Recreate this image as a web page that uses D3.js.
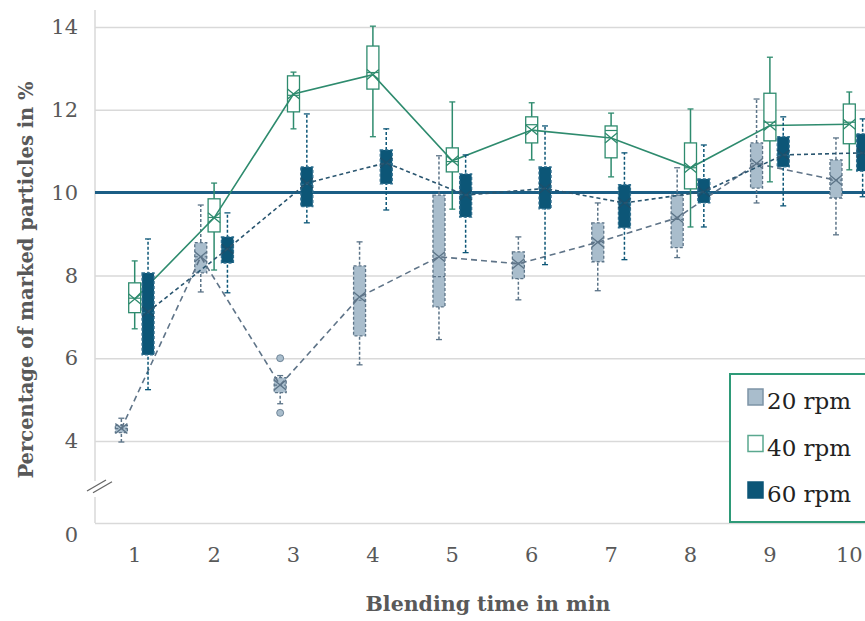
<!DOCTYPE html>
<html>
<head>
<meta charset="utf-8">
<script src="https://cdn.jsdelivr.net/npm/d3@7"></script>
<style>
  body { margin: 0; background: #fff; }
  text { font-family: "DejaVu Serif", serif; fill: #595959; }
</style>
</head>
<body>
<svg id="chart" width="865" height="621"></svg>
<script>
var width = 865,
    height = 621;

var categories = [1, 2, 3, 4, 5, 6, 7, 8, 9, 10];
var seriesNames = ['20 rpm', '40 rpm', '60 rpm'];
var yTicks = [0, 4, 6, 8, 10, 12, 14];

// each box: [min, q1, median, q3, max, mean]
var rpm20 = [
  [3.95, 4.2, 4.3, 4.38, 4.55, 4.3],
  [7.6, 8.06, 8.45, 8.79, 9.7, 8.45],
  [4.9, 5.17, 5.35, 5.53, 5.58, 5.35],
  [5.84, 6.54, 7.4, 8.23, 8.81, 7.48],
  [6.45, 7.24, 7.97, 9.94, 10.89, 8.45],
  [7.41, 7.92, 8.3, 8.57, 8.93, 8.28],
  [7.63, 8.33, 8.8, 9.27, 9.75, 8.8],
  [8.43, 8.67, 9.35, 9.94, 10.6, 9.39],
  [9.75, 10.11, 10.7, 11.2, 12.26, 10.7],
  [8.98, 9.87, 10.3, 10.79, 11.32, 10.3]
];
var rpm40 = [
  [6.71, 7.1, 7.45, 7.82, 8.35, 7.43],
  [8.13, 9.05, 9.4, 9.85, 10.23, 9.39],
  [11.54, 11.95, 12.35, 12.82, 12.91, 12.38],
  [11.35, 12.5, 12.9, 13.54, 14.02, 12.85],
  [9.6, 10.5, 10.75, 11.08, 12.19, 10.77],
  [10.79, 11.2, 11.64, 11.83, 12.17, 11.51],
  [10.38, 10.84, 11.5, 11.61, 11.92, 11.32],
  [9.17, 10.09, 10.6, 11.2, 12.02, 10.6],
  [10.26, 11.25, 11.7, 12.4, 13.27, 11.62],
  [10.55, 11.18, 11.7, 12.14, 12.43, 11.65]
];
var rpm60 = [
  [5.24, 6.08, 7.1, 8.06, 8.88, 7.12],
  [7.58, 8.3, 8.64, 8.93, 9.51, 8.64],
  [9.27, 9.66, 10.2, 10.62, 11.9, 10.23],
  [9.58, 10.21, 10.7, 11.03, 11.54, 10.72],
  [8.55, 9.41, 9.95, 10.45, 10.91, 9.94],
  [8.26, 9.61, 10.1, 10.62, 11.61, 10.1],
  [8.38, 9.15, 9.75, 10.19, 10.96, 9.75],
  [9.17, 9.75, 10.0, 10.33, 11.15, 10.02],
  [9.68, 10.62, 10.9, 11.35, 11.83, 10.91],
  [9.9, 10.52, 10.95, 11.42, 11.78, 10.96]
];
var outliers20 = [[3, 6.0], [3, 4.68]];
var targetValue = 10;

var styles = {
  '20 rpm': {fill: '#a9bdcc', stroke: '#5c7488', dash: '3,2', lineDash: '6,4'},
  '40 rpm': {fill: '#ffffff', stroke: '#2e8b6e', dash: null, lineDash: null},
  '60 rpm': {fill: '#0c5677', stroke: '#0c5677', dash: '3,2', lineDash: '4,3'}
};
var seriesData = {'20 rpm': rpm20, '40 rpm': rpm40, '60 rpm': rpm60};

var left = 95, bottom = 523;

var x = d3.scaleBand()
    .domain(categories)
    .range([left, left + 794]);

var xSub = d3.scaleBand()
    .domain(seriesNames)
    .range([-20, 20]);

var y = d3.scaleLinear()
    .domain([0, 4, 14])
    .range([bottom, 441, 27]);

var svg = d3.select('#chart');

// grid + y labels
var yAxis = svg.append('g')
    .attr('class', 'y axis')
    .attr('transform', 'translate(' + left + ',0)')
    .call(d3.axisLeft(y).tickValues(yTicks).tickSize(-(width - left)).tickPadding(17));
yAxis.select('.domain').remove();
yAxis.selectAll('line').attr('stroke', '#d9d9d9').attr('stroke-width', 1.5);
yAxis.selectAll('text')
    .style('font-size', '21px')
    .attr('fill', '#595959')
    .attr('dy', function(d) { return d === 0 ? '0.9em' : '0.32em'; });

// broken vertical axis
svg.append('line').attr('x1', left).attr('x2', left).attr('y1', 10).attr('y2', 481)
    .attr('stroke', '#d9d9d9').attr('stroke-width', 1.5);
svg.append('line').attr('x1', left).attr('x2', left).attr('y1', 497).attr('y2', bottom)
    .attr('stroke', '#d9d9d9').attr('stroke-width', 1.5);
[0, 6].forEach(function(o) {
  svg.append('line')
      .attr('x1', 87 + o).attr('y1', 491 + o * 0.3)
      .attr('x2', 106 + o).attr('y2', 480 + o * 0.3)
      .attr('stroke', '#666').attr('stroke-width', 1.3);
});

// x labels
var xAxis = svg.append('g')
    .attr('transform', 'translate(0,' + bottom + ')')
    .call(d3.axisBottom(x).tickSize(0).tickPadding(24));
xAxis.select('.domain').remove();
xAxis.selectAll('text').style('font-size', '21px').attr('fill', '#595959');

// titles
svg.append('text')
    .attr('transform', 'translate(33,280) rotate(-90)')
    .attr('text-anchor', 'middle')
    .style('font-size', '19.5px')
    .style('font-weight', 'bold')
    .text('Percentage of marked particles in %');

svg.append('text')
    .attr('x', 488)
    .attr('y', 611)
    .attr('text-anchor', 'middle')
    .style('font-size', '20.5px')
    .style('font-weight', 'bold')
    .text('Blending time in min');

// target line
svg.append('line')
    .attr('x1', left).attr('x2', width)
    .attr('y1', y(targetValue)).attr('y2', y(targetValue))
    .attr('stroke', '#1b5e85').attr('stroke-width', 3);

var bw = 12;

seriesNames.forEach(function(name) {
  var st = styles[name];
  var data = seriesData[name];
  var g = svg.append('g').attr('class', 'series');
  function cx(i) { return x(categories[i]) + x.bandwidth() / 2 + xSub(name) + xSub.bandwidth() / 2; }

  var box = g.selectAll('g.box')
      .data(data)
      .enter()
      .append('g')
      .attr('class', 'box');

  box.append('line')
      .attr('x1', (d, i) => cx(i)).attr('x2', (d, i) => cx(i))
      .attr('y1', d => y(d[0])).attr('y2', d => y(d[4]))
      .attr('stroke', st.stroke).attr('stroke-width', 1.5)
      .attr('stroke-dasharray', st.dash);

  [0, 4].forEach(function(k) {
    box.append('line')
        .attr('x1', (d, i) => cx(i) - 3).attr('x2', (d, i) => cx(i) + 3)
        .attr('y1', d => y(d[k])).attr('y2', d => y(d[k]))
        .attr('stroke', st.stroke).attr('stroke-width', 1.3);
  });

  box.append('rect')
      .attr('x', (d, i) => cx(i) - bw / 2)
      .attr('width', bw)
      .attr('y', d => y(d[3]))
      .attr('height', d => Math.max(2, y(d[1]) - y(d[3])))
      .attr('fill', st.fill)
      .attr('stroke', name === '60 rpm' ? '#2f6f8f' : st.stroke)
      .attr('stroke-width', 1.3)
      .attr('stroke-dasharray', st.dash);

  box.append('line')
      .attr('x1', (d, i) => cx(i) - bw / 2).attr('x2', (d, i) => cx(i) + bw / 2)
      .attr('y1', d => y(d[2])).attr('y2', d => y(d[2]))
      .attr('stroke', name === '60 rpm' ? '#2f6f8f' : st.stroke).attr('stroke-width', 1.2)
      .attr('stroke-dasharray', st.dash);

  // mean marker
  box.append('path')
      .attr('d', function(d, i) {
        var c = cx(i), m = y(d[5]), s = bw / 2;
        return 'M' + (c - s) + ',' + (m - 5) + 'L' + (c + s) + ',' + (m + 5) +
               'M' + (c - s) + ',' + (m + 5) + 'L' + (c + s) + ',' + (m - 5);
      })
      .attr('fill', 'none')
      .attr('stroke', name === '60 rpm' ? '#1d4f6b' : st.stroke)
      .attr('stroke-width', 1.3);

  // mean line
  g.append('path')
      .datum(data)
      .attr('d', d3.line().x((d, i) => cx(i)).y(d => y(d[5])))
      .attr('fill', 'none')
      .attr('stroke', name === '60 rpm' ? '#2a5670' : (name === '20 rpm' ? '#5f7488' : st.stroke))
      .attr('stroke-width', 1.6)
      .attr('stroke-dasharray', st.lineDash);

  if (name === '20 rpm') {
    g.selectAll('circle.outlier')
        .data(outliers20)
        .enter()
        .append('circle')
        .attr('cx', d => cx(d[0] - 1))
        .attr('cy', d => y(d[1]))
        .attr('r', 3.5)
        .attr('fill', st.fill)
        .attr('stroke', st.stroke)
        .attr('stroke-width', 0.8);
  }
});

// legend
var legend = svg.append('g').attr('class', 'legend');
legend.append('rect')
    .attr('x', 730).attr('y', 374)
    .attr('width', 150).attr('height', 148)
    .attr('fill', '#fff')
    .attr('stroke', '#2e9a78').attr('stroke-width', 2);

var item = legend.selectAll('g.item')
    .data(seriesNames)
    .enter()
    .append('g')
    .attr('transform', (d, i) => 'translate(748,' + (389 + i * 46.5) + ')');

item.append('rect')
    .attr('width', 15).attr('height', 16)
    .attr('fill', d => styles[d].fill)
    .attr('stroke', d => d === '40 rpm' ? '#5aa88f' : (d === '20 rpm' ? '#7d94a6' : styles[d].fill))
    .attr('stroke-width', 1.5);

item.append('text')
    .attr('x', 19)
    .attr('y', 20)
    .style('font-size', '23px')
    .style('fill', '#222')
    .text(d => d);
</script>
</body>
</html>
